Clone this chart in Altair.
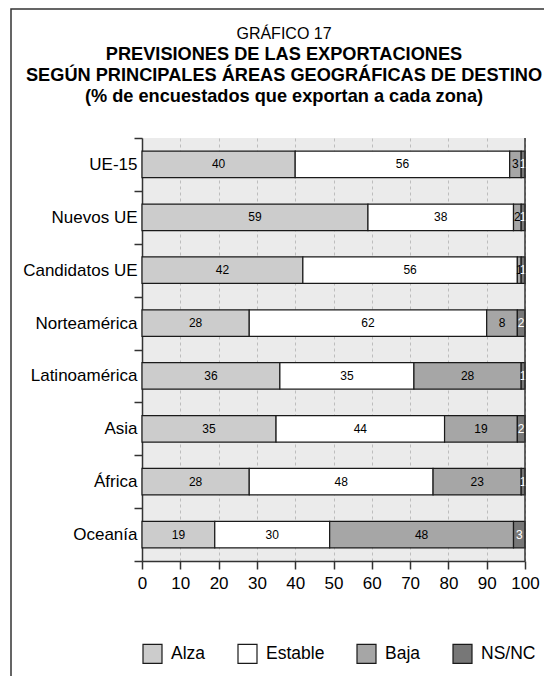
import altair as alt
import pandas as pd

zonas = ["UE-15", "Nuevos UE", "Candidatos UE", "Norteamérica",
         "Latinoamérica", "Asia", "África", "Oceanía"]
series = ["Alza", "Estable", "Baja", "NS/NC"]
alza = [40, 59, 42, 28, 36, 35, 28, 19]
estable = [56, 38, 56, 62, 35, 44, 48, 30]
baja = [3, 2, 1, 8, 28, 19, 23, 48]
nsnc = [1, 1, 1, 2, 1, 2, 1, 3]
colores = ["#cccccc", "#ffffff", "#a6a6a6", "#777777"]
x_ticks = [0, 10, 20, 30, 40, 50, 60, 70, 80, 90, 100]

rows = []
for s_idx, (s, vals) in enumerate(zip(series, [alza, estable, baja, nsnc])):
    for z, v in zip(zonas, vals):
        rows.append({"zona": z, "serie": s, "orden": s_idx, "valor": v})
df = pd.DataFrame(rows)

FONT = "Liberation Sans"
W, H = 383, 423

base = alt.Chart(df).transform_stack(
    stack="valor", as_=["x0", "x1"], groupby=["zona"],
    sort=[alt.SortField("orden", order="ascending")]
).transform_calculate(mid="(datum.x0 + datum.x1) / 2")

yaxis = alt.Axis(tickBand="extent", tickSize=8, tickColor="#333333",
                 tickWidth=1.5, domainColor="#333333", domainWidth=1.5,
                 labelFontSize=17, labelFont=FONT, labelColor="black",
                 labelPadding=-3, grid=False)
yscale = alt.Scale(paddingInner=0, paddingOuter=0)

xaxis = alt.Axis(values=x_ticks, tickSize=8, tickColor="#333333",
                 tickWidth=1.5, domainColor="#333333", domainWidth=1.5,
                 labelFontSize=17, labelFont=FONT, labelColor="black",
                 labelPadding=6, labelOverlap=False, labelFlush=False,
                 grid=True, gridColor="#bdbdbd", gridDash=[3, 3], gridWidth=1)
xscale = alt.Scale(domain=[0, 100], nice=False)

bars = base.mark_bar(stroke="#1a1a1a", strokeWidth=1.2,
                     height=alt.RelativeBandSize(0.5)).encode(
    x=alt.X("x0:Q", scale=xscale, title=None, axis=xaxis),
    x2="x1:Q",
    y=alt.Y("zona:N", sort=zonas, title=None, scale=yscale, axis=yaxis),
    color=alt.Color("serie:N", sort=series,
                    scale=alt.Scale(domain=series, range=colores),
                    legend=alt.Legend(orient="none", legendX=0, legendY=505,
                                      direction="horizontal", title=None,
                                      symbolType="square", symbolSize=361,
                                      symbolStrokeColor="#1a1a1a",
                                      symbolStrokeWidth=1.2, symbolOpacity=1,
                                      labelFontSize=17.5, labelFont=FONT,
                                      labelColor="black", labelOffset=8,
                                      columnPadding=29)),
    order=alt.Order("orden:Q"),
)

labels = base.mark_text(fontSize=12, font=FONT).encode(
    x=alt.X("mid:Q", scale=xscale, title=None, axis=xaxis),
    y=alt.Y("zona:N", sort=zonas, title=None, scale=yscale, axis=yaxis),
    text=alt.Text("valor:Q"),
    color=alt.condition(alt.datum.serie == "NS/NC", alt.value("white"),
                        alt.value("black")),
)

right_rule = alt.Chart(pd.DataFrame({"v": [100]})).mark_rule(
    color="#333333", strokeWidth=1.5).encode(
    x=alt.X("v:Q", scale=xscale, title=None, axis=xaxis))

frame = alt.Chart(pd.DataFrame({"a": [0]})).mark_rect(
    fill=None, stroke="#333333", strokeWidth=1.5, clip=False).encode(
    x=alt.value(-131), x2=alt.value(700), y=alt.value(-129), y2=alt.value(800))

chart = alt.layer(bars, labels, right_rule, frame).properties(
    width=W, height=H,
    title=alt.TitleParams(
        text="GRÁFICO 17",
        subtitle=["PREVISIONES DE LAS EXPORTACIONES",
                  "SEGÚN PRINCIPALES ÁREAS GEOGRÁFICAS DE DESTINO",
                  "(% de encuestados que exportan a cada zona)"],
        anchor="middle", dx=-49.5, fontSize=16, fontWeight="normal",
        font=FONT, color="black", subtitleFont=FONT, subtitleFontSize=18.2,
        subtitleFontWeight="bold", subtitleColor="black",
        subtitleLineHeight=21, subtitlePadding=4, offset=-97),
    autosize=alt.AutoSizeParams(type="none"),
    padding={"left": 134, "top": 130, "right": 19, "bottom": 115},
).configure(background="white").configure_view(stroke=None, fill="#ebebeb")

chart.save("out.html", embed_options={"renderer": "svg", "actions": False})
